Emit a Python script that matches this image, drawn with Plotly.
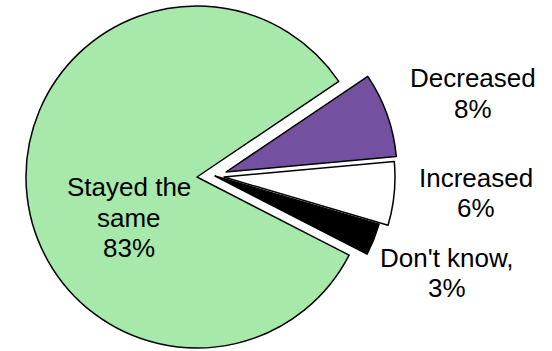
import plotly.graph_objects as go

# ---- data ----
categories = ["Decreased", "Increased", "Don't know", "Stayed the same"]
values = [8, 6, 3, 83]
label_lines = [["Decreased", "8%"], ["Increased", "6%"], ["Don't know,", "3%"],
               ["Stayed the", "same", "83%"]]
colors = ["#7451A0", "#FFFFFF", "#000000", "#A6E9AA"]

# ---- layout geometry (pixels) ----
W, H = 552, 351
R = 171
FS = 26
centers = {  # slice vertex positions (exploded slices)
    "Stayed the same": (197, 177),
    "Decreased": (226, 172),
    "Increased": (224, 177),
    "Don't know": (215, 176),
}
# label centre x and baseline y of each line
label_pos = {
    "Stayed the same": (129, [196, 227, 257]),
    "Decreased": (473, [87, 118]),
    "Increased": (476, [187, 217]),
    "Don't know": (447, [267, 297]),
}

fig = go.Figure()
order = ["Stayed the same", "Decreased", "Increased", "Don't know"]
for name in order:
    i = categories.index(name)
    cx, cy = centers[name]
    dom_x = [(cx - R) / W, (cx + R) / W]
    dom_y = [1 - (cy + R) / H, 1 - (cy - R) / H]
    mcolors = [colors[j] if j == i else "rgba(0,0,0,0)" for j in range(len(values))]
    lcolors = ["#000000" if j == i else "rgba(0,0,0,0)" for j in range(len(values))]
    lwidths = [1.5 if j == i else 0 for j in range(len(values))]
    fig.add_trace(go.Pie(
        labels=categories, values=values, sort=False, direction="clockwise",
        rotation=56, textinfo="none", hoverinfo="skip", showlegend=False,
        marker=dict(colors=mcolors, line=dict(color=lcolors, width=lwidths)),
        domain=dict(x=dom_x, y=dom_y),
    ))

for i, name in enumerate(categories):
    px, baselines = label_pos[name]
    for line, base in zip(label_lines[i], baselines):
        fig.add_annotation(
            x=px / W, y=1 - (base - 0.3465 * FS) / H, xref="paper", yref="paper",
            text=line, showarrow=False, xanchor="center", yanchor="middle",
            align="center", font=dict(family="Liberation Sans, Arial", size=FS, color="#000000"),
        )

fig.update_layout(
    width=W, height=H, margin=dict(l=0, r=0, t=0, b=0),
    paper_bgcolor="white", plot_bgcolor="white",
)
fig.write_html("out.html", config={"displayModeBar": False},
               post_script="document.body.style.margin='0';")
